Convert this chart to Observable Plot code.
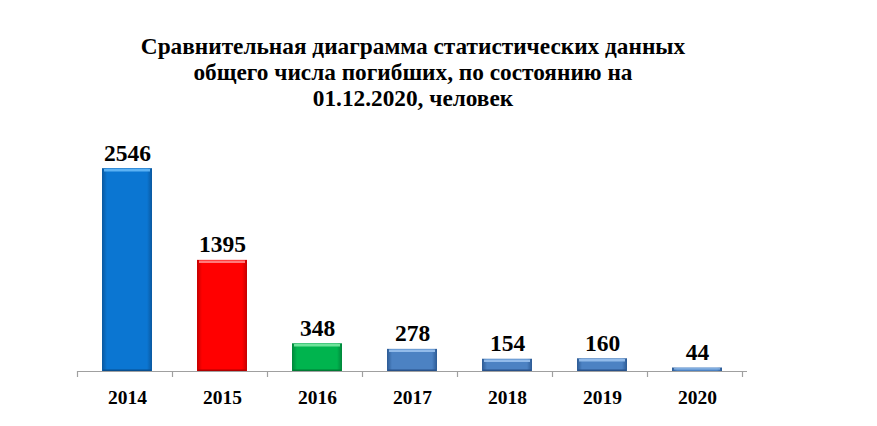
<!DOCTYPE html>
<html>
<head>
<meta charset="utf-8">
<script src="https://cdn.jsdelivr.net/npm/d3@7"></script>
<script src="https://cdn.jsdelivr.net/npm/@observablehq/plot@0.6"></script>
<style>
  body { margin: 0; background: #fff; font-family: "Liberation Serif", "Times New Roman", serif; }
  #title { width: 826px; padding-top: 33px; text-align: center; font-weight: bold; font-size: 23.3px; line-height: 26px; color: #000; }
  #chart { margin-top: 2px; }
  #chart svg { display: block; }
</style>
</head>
<body>
<div id="title">Сравнительная диаграмма статистических данных<br>общего числа погибших, по состоянию на<br>01.12.2020, человек</div>
<div id="chart"></div>
<script>
const years = ["2014", "2015", "2016", "2017", "2018", "2019", "2020"];
const values = [2546, 1395, 348, 278, 154, 160, 44];
const colors = ["blue", "red", "green", "steel", "steel", "steel", "steel"];

const palette = {
  blue:  {edge: "#0a589f", mid: "#0b76d2", top: "#5cb2f4", bottom: "#094f90"},
  red:   {edge: "#c40000", mid: "#ff0000", top: "#ff7a7a", bottom: "#b00000"},
  green: {edge: "#00863a", mid: "#00b44e", top: "#6ee39a", bottom: "#007a34"},
  steel: {edge: "#2c5a94", mid: "#4c82c3", top: "#92bbea", bottom: "#28518a"}
};

const data = years.map((y, i) => ({
  year: y, value: values[i],
  fill: `url(#grad-${colors[i]})`,
  top: palette[colors[i]].top,
  bottom: palette[colors[i]].bottom
}));
const tall = data.filter(d => d.value > 100);
const short = data.filter(d => d.value <= 100);

const chart = Plot.plot({
  width: 877,
  height: 312,
  marginLeft: 77,
  marginRight: 130,
  marginTop: 19,
  marginBottom: 54,
  style: {fontFamily: "Liberation Serif, serif", background: "transparent"},
  x: {domain: years, paddingInner: 0.47, paddingOuter: 0.235, label: null},
  y: {domain: [0, 3000], axis: null},
  color: {type: "identity"},
  marks: [
    Plot.barY(data, {x: "year", y: "value", fill: "fill"}),
    Plot.tickY(tall, {x: "year", y: "value", stroke: "top", strokeWidth: 2.5, dy: 1.5, insetLeft: 2, insetRight: 2}),
    Plot.tickY(short, {x: "year", y: "value", stroke: "top", strokeWidth: 1.2, dy: 0.8, insetLeft: 2, insetRight: 2}),
    Plot.tickY(tall, {x: "year", y: 0, stroke: "bottom", strokeWidth: 2, dy: -1, insetLeft: 1, insetRight: 1}),
    Plot.text(data, {x: "year", y: "value", text: d => String(d.value), lineAnchor: "bottom", dy: -8, fontSize: 23.5, fontWeight: "bold", fill: "#000"}),
    Plot.axisX({tickSize: 0, tickPadding: 19, fontSize: 19.5, fontWeight: "bold", fill: "#000"}),
    (index, scales, values, dims) => {
      const x = scales.x;
      const step = x.step ? x.step() : (x.bandwidth() / (1 - 0.47));
      const left = dims.marginLeft, right = dims.width - dims.marginRight;
      const base = dims.height - dims.marginBottom;
      const g = d3.create("svg:g").attr("stroke", "#a0a0a0").attr("stroke-width", 1.2);
      g.append("line").attr("x1", left).attr("x2", right).attr("y1", base + 0.5).attr("y2", base + 0.5);
      for (let i = 0; i <= years.length; i++) {
        const px = Math.round(left + i * step) + 0.5;
        g.append("line").attr("x1", px).attr("x2", px).attr("y1", base).attr("y2", base + 6);
      }
      return g.node();
    }
  ]
});

const svg = d3.select(chart);
const defs = svg.insert("defs", ":first-child");
for (const [k, c] of Object.entries(palette)) {
  const lg = defs.append("linearGradient").attr("id", `grad-${k}`).attr("x1", 0).attr("x2", 1).attr("y1", 0).attr("y2", 0);
  lg.append("stop").attr("offset", "0%").attr("stop-color", c.edge);
  lg.append("stop").attr("offset", "10%").attr("stop-color", c.mid);
  lg.append("stop").attr("offset", "90%").attr("stop-color", c.mid);
  lg.append("stop").attr("offset", "100%").attr("stop-color", c.edge);
}
document.getElementById("chart").appendChild(chart);
</script>
</body>
</html>
